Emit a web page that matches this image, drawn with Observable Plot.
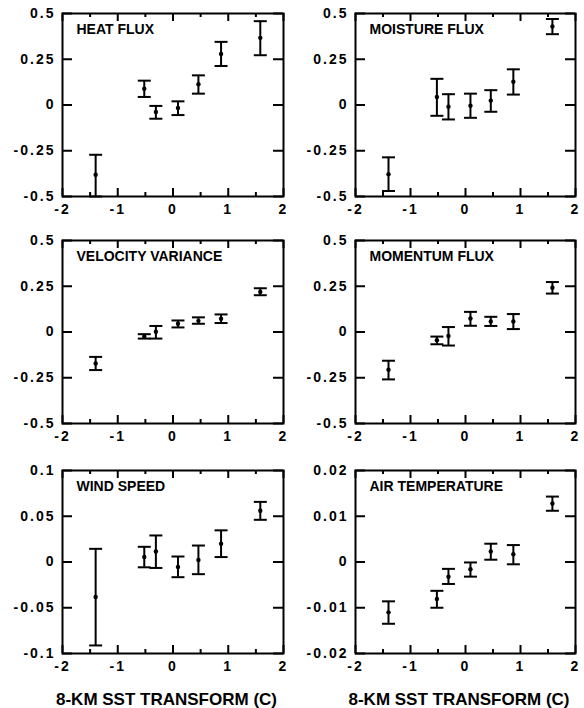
<!DOCTYPE html>
<html>
<head>
<meta charset="utf-8">
<script src="https://cdn.jsdelivr.net/npm/d3@7"></script>
<script src="https://cdn.jsdelivr.net/npm/@observablehq/plot@0.6"></script>
<style>
  html, body { margin: 0; padding: 0; background: #fff; }
  #chart { position: relative; width: 584px; height: 708px; overflow: hidden; }
  .panel { position: absolute; }
  .xtitle { position: absolute; font-family: 'Liberation Sans', Arial, sans-serif;
    font-weight: bold; font-size: 17px; text-align: center; color: #000; white-space: pre; }
</style>
</head>
<body>
<div id="chart"></div>
<script>
// ---- data ----
const sst = [-1.40, -0.52, -0.31, 0.09, 0.46, 0.87, 1.58];

const titles = ["HEAT FLUX", "MOISTURE FLUX", "VELOCITY VARIANCE", "MOMENTUM FLUX", "WIND SPEED", "AIR TEMPERATURE"];

const heatMean = [-0.381, 0.089, -0.038, -0.016, 0.113, 0.279, 0.367];
const heatLo   = [-0.500, 0.044, -0.075, -0.055, 0.062, 0.213, 0.272];
const heatHi   = [-0.272, 0.133, -0.005, 0.020, 0.162, 0.345, 0.458];

const moistMean = [-0.378, 0.044, -0.009, -0.004, 0.024, 0.127, 0.429];
const moistLo   = [-0.470, -0.059, -0.079, -0.070, -0.037, 0.057, 0.387];
const moistHi   = [-0.286, 0.143, 0.059, 0.062, 0.081, 0.195, 0.470];

const velMean = [-0.172, -0.024, 0.002, 0.045, 0.061, 0.072, 0.219];
const velLo   = [-0.208, -0.036, -0.036, 0.025, 0.045, 0.049, 0.201];
const velHi   = [-0.136, -0.012, 0.033, 0.063, 0.080, 0.096, 0.239];

const momMean = [-0.206, -0.045, -0.022, 0.074, 0.058, 0.058, 0.242];
const momLo   = [-0.259, -0.067, -0.074, 0.034, 0.033, 0.016, 0.210];
const momHi   = [-0.157, -0.025, 0.027, 0.110, 0.083, 0.098, 0.273];

const windMean = [-0.0382, 0.0054, 0.0115, -0.0054, 0.0022, 0.0200, 0.0560];
const windLo   = [-0.0912, -0.0058, -0.0065, -0.0166, -0.0133, 0.0054, 0.0461];
const windHi   = [0.0144, 0.0166, 0.0290, 0.0060, 0.0180, 0.0346, 0.0657];

const airMean = [-0.0110, -0.0081, -0.0032, -0.0016, 0.0023, 0.0017, 0.0128];
const airLo   = [-0.0135, -0.0100, -0.0048, -0.0032, 0.0005, -0.0005, 0.0112];
const airHi   = [-0.0086, -0.0063, -0.0015, -0.0001, 0.0040, 0.0037, 0.0143];

const xTicks = [-2, -1, 0, 1, 2];
const xMinorTicks = [-1.5, -0.5, 0.5, 1.5];
const yTicksFlux = [-0.5, -0.25, 0, 0.25, 0.5];
const yTicksWind = [-0.1, -0.05, 0, 0.05, 0.1];
const yTicksAir = [-0.02, -0.01, 0, 0.01, 0.02];

const xTitle = "8-KM SST TRANSFORM (C)";

// ---- panels ----
const panels = [
  {title: titles[0], mean: heatMean, lo: heatLo, hi: heatHi, ticks: yTicksFlux},
  {title: titles[1], mean: moistMean, lo: moistLo, hi: moistHi, ticks: yTicksFlux},
  {title: titles[2], mean: velMean, lo: velLo, hi: velHi, ticks: yTicksFlux},
  {title: titles[3], mean: momMean, lo: momLo, hi: momHi, ticks: yTicksFlux},
  {title: titles[4], mean: windMean, lo: windLo, hi: windHi, ticks: yTicksWind},
  {title: titles[5], mean: airMean, lo: airLo, hi: airHi, ticks: yTicksAir}
];

const FONT = "'Liberation Sans', Arial, sans-serif";
const capSymbol = {
  draw(context, size) {
    const r = Math.sqrt(size / Math.PI);
    context.moveTo(-r, 0);
    context.lineTo(r, 0);
  }
};
const fmt = d => (d === 0 ? "0" : String(d));

const rowTops = [0, 227, 457];
const colLefts = [0, 292];
const W = 292, H = 221;
const ML = [62, 63], MR = 9, MT = 13, MB = 25;
const FH = H - MT - MB;

const chart = document.getElementById("chart");

panels.forEach((p, k) => {
  const row = Math.floor(k / 2), col = k % 2;
  const FW = W - ML[col] - MR;
  const rows = sst.map((x, i) => ({x, y: p.mean[i], lo: p.lo[i], hi: p.hi[i]}));
  const yDom = [p.ticks[0], p.ticks[p.ticks.length - 1]];
  const tk = {stroke: "#000", strokeWidth: 2};
  const svg = Plot.plot({
    width: W, height: H,
    marginLeft: ML[col], marginRight: MR, marginTop: MT, marginBottom: MB,
    style: {fontFamily: FONT, fontSize: "14px", fontWeight: "bold", color: "#000", background: "#fff"},
    x: {domain: [-2, 2]},
    y: {domain: yDom},
    marks: [
      // tick labels
      Plot.axisX(xTicks, {anchor: "bottom", tickSize: 0, tickPadding: 8, tickFormat: fmt, label: null, fontSize: 14}),
      Plot.axisY(p.ticks, {anchor: "left", tickSize: 0, tickPadding: 7, tickFormat: fmt, label: null, fontSize: 14}),
      // inward tick marks (major and minor)
      Plot.tickX(xTicks, {x: d => d, insetTop: FH - 8, ...tk}),
      Plot.tickX(xMinorTicks, {x: d => d, insetTop: FH - 4, ...tk}),
      Plot.tickX(xTicks, {x: d => d, insetBottom: FH - 8, ...tk}),
      Plot.tickX(xMinorTicks, {x: d => d, insetBottom: FH - 4, ...tk}),
      Plot.tickY(p.ticks, {y: d => d, insetRight: FW - 10, ...tk}),
      Plot.tickY(p.ticks, {y: d => d, insetLeft: FW - 10, ...tk}),
      Plot.frame({stroke: "#000", strokeWidth: 2}),
      // error bars with caps, and means
      Plot.ruleX(rows, {x: d => d.x, y1: d => d.lo, y2: d => d.hi, stroke: "#000", strokeWidth: 2}),
      Plot.dot(rows, {x: d => d.x, y: d => d.hi, symbol: capSymbol, r: 6.5, stroke: "#000", strokeWidth: 2, fill: "none"}),
      Plot.dot(rows, {x: d => d.x, y: d => d.lo, symbol: capSymbol, r: 6.5, stroke: "#000", strokeWidth: 2, fill: "none"}),
      Plot.dot(rows, {x: d => d.x, y: d => d.y, r: 2.2, fill: "#000", stroke: "none"}),
      // panel title
      Plot.text([p.title], {text: d => d, frameAnchor: "top-left", dx: 14, dy: 11, lineAnchor: "top", textAnchor: "start", fontSize: 14, fontWeight: "bold"})
    ]
  });
  svg.querySelectorAll('g[aria-label$="tick label"] text').forEach(t => t.style.letterSpacing = "2px");
  const div = document.createElement("div");
  div.className = "panel";
  div.style.left = colLefts[col] + "px";
  div.style.top = rowTops[row] + "px";
  div.appendChild(svg);
  chart.appendChild(div);
});

// x-axis titles under the bottom row
[0, 1].forEach(col => {
  const d = document.createElement("div");
  d.className = "xtitle";
  const center = colLefts[col] + ML[col] + (W - ML[col] - MR) / 2 - 6;
  d.style.left = (center - 150) + "px";
  d.style.width = "300px";
  d.style.top = "689px";
  d.style.lineHeight = "22px";
  d.textContent = xTitle;
  chart.appendChild(d);
});
</script>
</body>
</html>
